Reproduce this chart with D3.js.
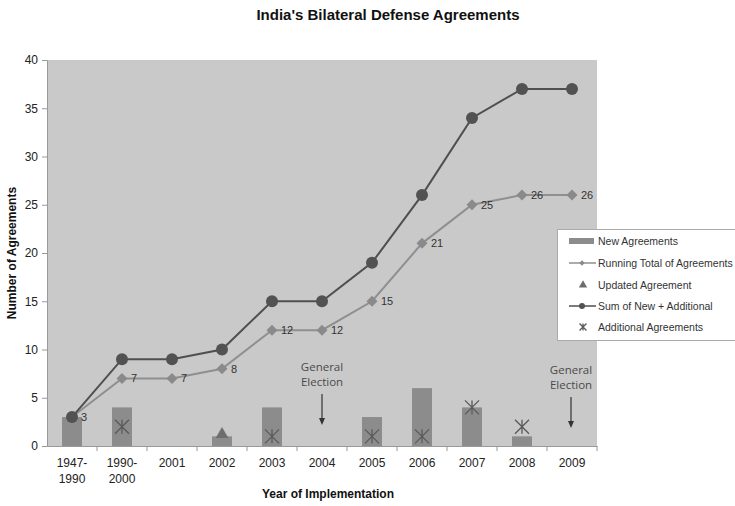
<!DOCTYPE html>
<html><head><meta charset="utf-8">
<script src="https://cdn.jsdelivr.net/npm/d3@7"></script>
<style>body{margin:0;background:#fff}svg{display:block}</style>
</head><body><svg id="c" width="735" height="506"></svg>
<script>
const categories = ["1947-1990","1990-2000","2001","2002","2003","2004","2005","2006","2007","2008","2009"];
const newAgreements = [3,4,0,1,4,0,3,6,4,1,0];
const runningTotal = [3,7,7,8,12,12,15,21,25,26,26];
const sumNewAdditional = [3,9,9,10,15,15,19,26,34,37,37];
const updatedAgreement = [null,null,null,1,null,null,null,null,null,null,null];
const additionalAgreements = [null,2,null,null,1,null,1,1,4,2,null];
const yTicks = [0,5,10,15,20,25,30,35,40];
const electionYears = ["2004","2009"];

const svg = d3.select("#c");
const L=47,R=597,T=60,B=446;
const x = d3.scaleBand().domain(categories).range([L,R]);
const y = d3.scaleLinear().domain([0,40]).range([B,T]);
const cx = c => x(c)+x.bandwidth()/2;
const F = "Liberation Sans, Arial, sans-serif";

svg.append("rect").attr("x",L).attr("y",T).attr("width",R-L).attr("height",B-T).attr("fill","#c9c9c9");

// title
svg.append("text").attr("x",388).attr("y",20).attr("text-anchor","middle").attr("font-family",F)
  .attr("font-weight","bold").attr("font-size",15).attr("fill","#111").text("India's Bilateral Defense Agreements");

// y axis
const ya = svg.append("g").attr("transform",`translate(${L},0)`)
  .call(d3.axisLeft(y).tickValues(yTicks).tickSize(5).tickPadding(4));
ya.select(".domain").attr("stroke","#999");
ya.selectAll(".tick line").attr("stroke","#999");
ya.selectAll("text").attr("font-family",F).attr("font-size",12).attr("fill","#222");

// x axis
const xa = svg.append("g").attr("transform",`translate(0,${B})`)
  .call(d3.axisBottom(x).tickSize(0).tickPadding(12));
xa.select(".domain").attr("stroke","#999");
xa.selectAll("text").attr("font-family",F).attr("font-size",12).attr("fill","#222")
  .each(function(d){
    const t=d3.select(this);
    if(d.includes("-")){
      const p=d.split("-");
      t.text(null);
      t.append("tspan").attr("x",0).text(p[0]+"-");
      t.append("tspan").attr("x",0).attr("dy","1.35em").text(p[1]);
    }
  });
// boundary ticks
svg.append("g").selectAll("line").data(categories).join("line")
  .attr("x1",(d,i)=>L+(i+1)*x.bandwidth()).attr("x2",(d,i)=>L+(i+1)*x.bandwidth())
  .attr("y1",B).attr("y2",B+5).attr("stroke","#999");

// axis titles
svg.append("text").attr("transform","translate(16,253) rotate(-90)").attr("text-anchor","middle")
  .attr("font-family",F).attr("font-weight","bold").attr("font-size",12).attr("fill","#111").text("Number of Agreements");
svg.append("text").attr("x",328).attr("y",498).attr("text-anchor","middle")
  .attr("font-family",F).attr("font-weight","bold").attr("font-size",12).attr("fill","#111").text("Year of Implementation");

// bars
const bw=20;
svg.append("g").selectAll("rect").data(categories).join("rect")
  .attr("x",d=>cx(d)-bw/2).attr("width",bw)
  .attr("y",(d,i)=>y(newAgreements[i])).attr("height",(d,i)=>B-y(newAgreements[i]))
  .attr("fill","#8c8c8c");

// lines
const line = arr => d3.line().x((d,i)=>cx(categories[i])).y(d=>y(d))(arr);
svg.append("path").attr("d",line(runningTotal)).attr("fill","none").attr("stroke","#8f8f8f").attr("stroke-width",2);
svg.append("path").attr("d",line(sumNewAdditional)).attr("fill","none").attr("stroke","#4f4f4f").attr("stroke-width",2);

// diamonds
const diamond = d3.symbol().type(d3.symbolSquare).size(60);
svg.append("g").selectAll("path").data(runningTotal).join("path")
  .attr("d",diamond).attr("transform",(d,i)=>`translate(${cx(categories[i])},${y(d)}) rotate(45)`)
  .attr("fill","#8a8a8a");
// circles
svg.append("g").selectAll("circle").data(sumNewAdditional).join("circle")
  .attr("cx",(d,i)=>cx(categories[i])).attr("cy",d=>y(d)).attr("r",6).attr("fill","#525252");
// data labels
svg.append("g").selectAll("text").data(runningTotal).join("text")
  .attr("x",(d,i)=>cx(categories[i])+9).attr("y",d=>y(d)+4)
  .attr("font-family",F).attr("font-size",11).attr("fill","#333").text(d=>d);

// updated agreement triangles
const tri = d3.symbol().type(d3.symbolTriangle).size(70);
svg.append("g").selectAll("path").data(updatedAgreement.map((v,i)=>({v,c:categories[i]})).filter(d=>d.v!=null)).join("path")
  .attr("d",tri).attr("transform",d=>`translate(${cx(d.c)},${y(d.v)-2})`).attr("fill","#6e6e6e");

// additional agreements star-x markers
function starX(g,px,py,s){
  g.append("path").attr("d",`M${px-s},${py-s}L${px+s},${py+s}M${px+s},${py-s}L${px-s},${py+s}M${px},${py-s}L${px},${py+s}`)
    .attr("stroke","#5a5a5a").attr("stroke-width",1.3).attr("fill","none");
}
const sg = svg.append("g");
additionalAgreements.forEach((v,i)=>{ if(v!=null) starX(sg,cx(categories[i]),y(v),7); });

// general election annotations
const EF = "Open Sans, DejaVu Sans, sans-serif";
electionYears.forEach((c,k)=>{
  const X=cx(c)+(k?-1:0), off=k?3:0;
  const g=svg.append("g");
  g.append("text").attr("x",X).attr("y",371+off).attr("text-anchor","middle").attr("font-family",EF).attr("font-size",11.5).attr("fill","#4a4a4a").text("General");
  g.append("text").attr("x",X).attr("y",386+off).attr("text-anchor","middle").attr("font-family",EF).attr("font-size",11.5).attr("fill","#4a4a4a").text("Election");
  g.append("line").attr("x1",X).attr("x2",X).attr("y1",394+off).attr("y2",422+off).attr("stroke","#333").attr("stroke-width",1.2);
  g.append("path").attr("d",`M${X-3},${418+off}L${X},${425+off}L${X+3},${418+off}Z`).attr("fill","#333");
});

// legend
const lg = svg.append("g");
lg.append("rect").attr("x",557.5).attr("y",229.5).attr("width",185).attr("height",111).attr("fill","#fff").attr("stroke","#aaa");
const legendItems = ["New Agreements","Running Total of Agreements","Updated Agreement","Sum of New + Additional","Additional Agreements"];
const ly=[241,263,285,306,327];
lg.selectAll("text").data(legendItems).join("text").attr("x",598).attr("y",(d,i)=>ly[i]+4)
  .attr("font-family",F).attr("font-size",10.5).attr("fill","#333").text(d=>d);
lg.append("rect").attr("x",569).attr("y",ly[0]-3).attr("width",25).attr("height",6).attr("fill","#8c8c8c");
lg.append("line").attr("x1",569).attr("x2",596).attr("y1",ly[1]).attr("y2",ly[1]).attr("stroke","#8f8f8f").attr("stroke-width",1.5);
lg.append("path").attr("d",d3.symbol().type(d3.symbolSquare).size(14)).attr("transform",`translate(582,${ly[1]}) rotate(45)`).attr("fill","#8a8a8a");
lg.append("path").attr("d",d3.symbol().type(d3.symbolTriangle).size(30)).attr("transform",`translate(583,${ly[2]})`).attr("fill","#6e6e6e");
lg.append("line").attr("x1",569).attr("x2",596).attr("y1",ly[3]).attr("y2",ly[3]).attr("stroke","#4f4f4f").attr("stroke-width",1.5);
lg.append("circle").attr("cx",582).attr("cy",ly[3]).attr("r",3).attr("fill","#525252");
starX(lg,583,ly[4],3.5);
</script></body></html>
